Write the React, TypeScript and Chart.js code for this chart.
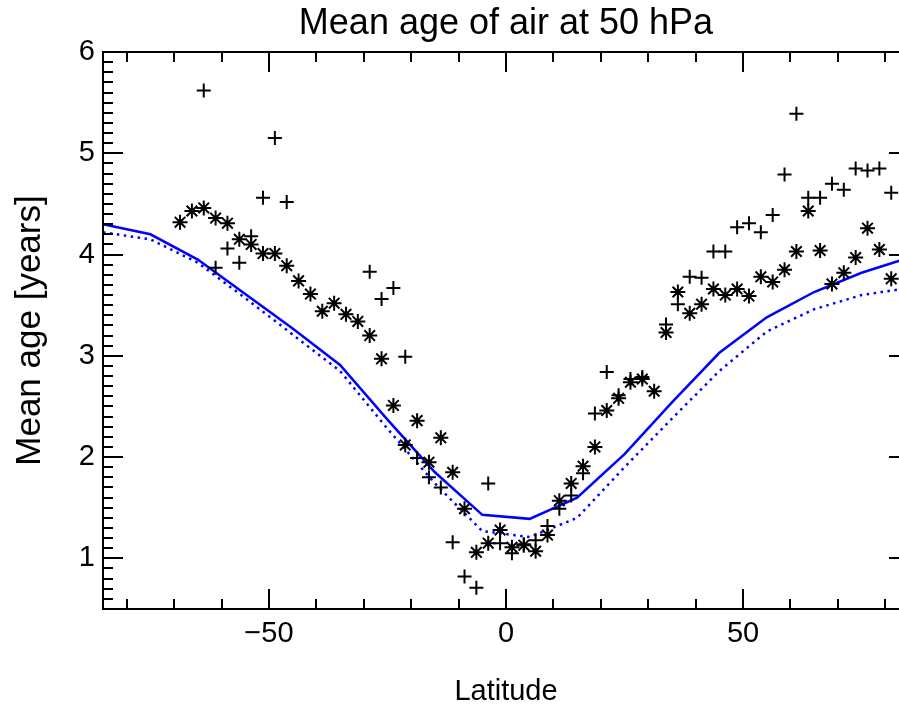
import React, { useEffect, useRef } from 'react';
import { Chart, registerables } from 'chart.js';

Chart.register(...registerables);

const titleText = 'Mean age of air at 50 hPa';
const xTitleText = 'Latitude';
const yTitleText = 'Mean age [years]';

// Observation latitudes (2.5 degree grid)
const obsLat = [
  -68.75, -66.25, -63.75, -61.25, -58.75, -56.25, -53.75, -51.25, -48.75, -46.25,
  -43.75, -41.25, -38.75, -36.25, -33.75, -31.25, -28.75, -26.25, -23.75, -21.25,
  -18.75, -16.25, -13.75, -11.25, -8.75, -6.25, -3.75, -1.25, 1.25, 3.75,
  6.25, 8.75, 11.25, 13.75, 16.25, 18.75, 21.25, 23.75, 26.25, 28.75,
  31.25, 33.75, 36.25, 38.75, 41.25, 43.75, 46.25, 48.75, 51.25, 53.75,
  56.25, 58.75, 61.25, 63.75, 66.25, 68.75, 71.25, 73.75, 76.25, 78.75,
  81.25,
];

// Asterisk observations
const asteriskAge = [
  4.32, 4.43, 4.46, 4.36, 4.31, 4.15, 4.10, 4.01, 4.01, 3.89,
  3.74, 3.61, 3.44, 3.52, 3.41, 3.34, 3.20, 2.97, 2.51, 2.12,
  2.36, 1.95, 2.19, 1.85, 1.49, 1.06, 1.15, 1.28, 1.11, 1.13,
  1.07, 1.23, 1.57, 1.74, 1.91, 2.10, 2.46, 2.58, 2.74, 2.77,
  2.65, 3.23, 3.63, 3.42, 3.51, 3.66, 3.60, 3.66, 3.59, 3.78,
  3.73, 3.85, 4.03, 4.43, 4.04, 3.71, 3.82, 3.97, 4.26, 4.05,
  3.76,
];

// Plus observations (null = no value)
const plusAge = [
  null, null, 5.62, 3.87, 4.06, 3.92, 4.18, 4.56, 5.15, 4.52,
  null, null, null, null, null, null, 3.83, 3.56, 3.67, 2.99,
  1.99, 1.80, 1.70, 1.16, 0.82, 0.71, 1.74, 1.15, 1.05, 1.14,
  1.18, 1.32, 1.49, 1.62, 1.84, 2.43, 2.84, 2.61, 2.77, 2.79,
  null, 3.31, 3.51, 3.78, 3.77, 4.03, 4.03, 4.27, 4.31, 4.22,
  4.39, 4.79, 5.39, 4.56, 4.56, 4.70, 4.64, 4.85, 4.83, 4.85,
  4.61,
];

// Model latitudes (10 degree grid)
const modelLat = [-85, -75, -65, -55, -45, -35, -25, -15, -5, 5, 15, 25, 35, 45, 55, 65, 75, 85];
const modelSolidAge = [4.30, 4.20, 3.95, 3.61, 3.27, 2.91, 2.37, 1.85, 1.43, 1.39, 1.60, 2.03, 2.54, 3.03, 3.38, 3.63, 3.82, 3.97];
const modelDottedAge = [4.22, 4.15, 3.92, 3.57, 3.21, 2.85, 2.28, 1.74, 1.27, 1.21, 1.40, 1.90, 2.38, 2.85, 3.24, 3.46, 3.60, 3.67];

const xMin = -85;
const xMax = 85;
const yMin = 0.5;
const yMax = 6;
const xMajorTicks = [-50, 0, 50];
const yMajorTicks = [1, 2, 3, 4, 5, 6];
const xMinorStep = 10;
const yMinorStep = 0.1;

const FONT = '"Liberation Sans", Arial, Helvetica, sans-serif';

const toPoints = (xs: number[], ys: (number | null)[]) =>
  xs
    .map((x, i) => ({ x, y: ys[i] }))
    .filter((p) => p.y !== null && p.y !== undefined) as { x: number; y: number }[];

const framePlugin = {
  id: 'idlFrame',
  afterDatasetsDraw(chart: any) {
    const { ctx, chartArea } = chart;
    const { left, right, top, bottom } = chartArea;
    const xs = chart.scales.x;
    const ys = chart.scales.y;
    ctx.save();
    ctx.strokeStyle = '#000';
    ctx.lineWidth = 2;
    ctx.strokeRect(left, top, right - left, bottom - top);
    ctx.beginPath();
    const xStart = Math.ceil(xMin / xMinorStep);
    const xEnd = Math.floor(xMax / xMinorStep);
    for (let i = xStart; i <= xEnd; i++) {
      const v = i * xMinorStep;
      const px = Math.round(xs.getPixelForValue(v));
      const len = xMajorTicks.includes(v) ? 20 : 10;
      ctx.moveTo(px, bottom);
      ctx.lineTo(px, bottom - len);
      ctx.moveTo(px, top);
      ctx.lineTo(px, top + len);
    }
    const yStart = Math.ceil(yMin / yMinorStep - 1e-9);
    const yEnd = Math.floor(yMax / yMinorStep + 1e-9);
    for (let i = yStart; i <= yEnd; i++) {
      const v = Math.round(i * yMinorStep * 1000) / 1000;
      const py = Math.round(ys.getPixelForValue(v));
      const len = yMajorTicks.includes(v) ? 20 : 10;
      ctx.moveTo(left, py);
      ctx.lineTo(left + len, py);
      ctx.moveTo(right, py);
      ctx.lineTo(right - len, py);
    }
    ctx.stroke();
    ctx.restore();
  },
};

export default function App() {
  const canvasRef = useRef<HTMLCanvasElement | null>(null);

  useEffect(() => {
    const canvas = canvasRef.current;
    if (!canvas) return;
    const chart = new Chart(canvas, {
      type: 'scatter',
      data: {
        datasets: [
          {
            label: 'plus',
            data: toPoints(obsLat, plusAge),
            pointStyle: 'cross',
            pointRadius: 7,
            pointBorderWidth: 2,
            borderColor: '#000',
            backgroundColor: '#000',
            showLine: false,
          },
          {
            label: 'asterisk',
            data: toPoints(obsLat, asteriskAge),
            pointStyle: 'star',
            pointRadius: 7.5,
            pointBorderWidth: 2,
            borderColor: '#000',
            backgroundColor: '#000',
            showLine: false,
          },
          {
            label: 'model solid',
            data: toPoints(modelLat, modelSolidAge),
            showLine: true,
            borderColor: '#0000ff',
            borderWidth: 2.5,
            pointRadius: 0,
            fill: false,
          },
          {
            label: 'model dotted',
            data: toPoints(modelLat, modelDottedAge),
            showLine: true,
            borderColor: '#0000ff',
            borderWidth: 2.5,
            borderDash: [2.5, 4.5],
            pointRadius: 0,
            fill: false,
          },
        ],
      },
      options: {
        animation: false,
        responsive: false,
        devicePixelRatio: 1,
        layout: { padding: { left: 0, right: 21, top: 0, bottom: 0 } },
        plugins: {
          legend: { display: false },
          tooltip: { enabled: false },
          title: {
            display: true,
            fullSize: false,
            text: titleText,
            color: '#000',
            font: { family: FONT, size: 36, weight: 'normal' },
            padding: { top: 2.8, bottom: 6 },
          },
        },
        scales: {
          x: {
            type: 'linear',
            min: xMin,
            max: xMax,
            grid: { display: false, drawTicks: false },
            border: { display: false },
            afterBuildTicks: (s: any) => {
              s.ticks = xMajorTicks.map((v) => ({ value: v }));
            },
            afterFit: (s: any) => {
              s.height = 95;
            },
            ticks: {
              autoSkip: false,
              maxRotation: 0,
              color: '#000',
              padding: 8,
              font: { family: FONT, size: 29 },
              callback: (v: any) => (v < 0 ? '\u2212' + Math.abs(v) : String(v)),
            },
            title: {
              display: true,
              text: xTitleText,
              color: '#000',
              font: { family: FONT, size: 29 },
              padding: { top: 0, bottom: -5 },
            },
          },
          y: {
            type: 'linear',
            min: yMin,
            max: yMax,
            grid: { display: false, drawTicks: false },
            border: { display: false },
            afterBuildTicks: (s: any) => {
              s.ticks = yMajorTicks.map((v) => ({ value: v }));
            },
            afterFit: (s: any) => {
              s.width = 103;
            },
            ticks: {
              autoSkip: false,
              color: '#000',
              padding: 8,
              font: { family: FONT, size: 29 },
              callback: (v: any) => String(v),
            },
            title: {
              display: true,
              text: yTitleText,
              color: '#000',
              font: { family: FONT, size: 35 },
              padding: { top: 9, bottom: 0 },
            },
          },
        },
      },
      plugins: [framePlugin],
    } as any);
    return () => chart.destroy();
  }, []);

  return (
    <div
      style={{
        position: 'fixed',
        left: 0,
        top: 0,
        width: 899,
        height: 704,
        overflow: 'hidden',
        background: '#fff',
      }}
    >
      <canvas ref={canvasRef} width={930} height={704} style={{ width: 930, height: 704, display: 'block' }} />
    </div>
  );
}
